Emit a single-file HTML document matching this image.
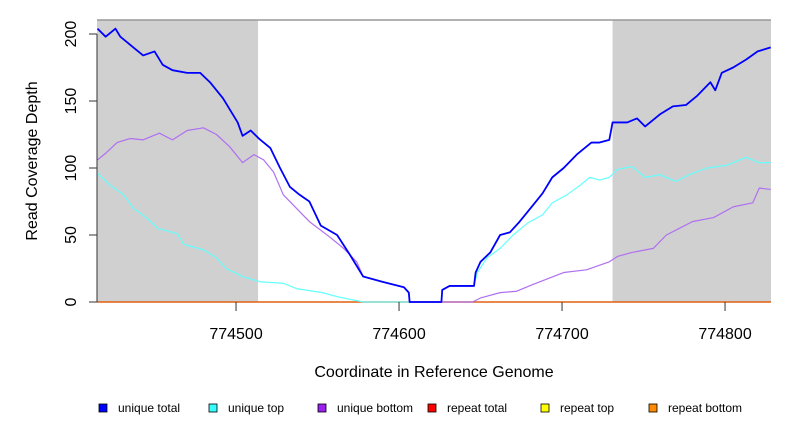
<!DOCTYPE html>
<html><head><meta charset="utf-8"><style>
body{margin:0;background:#fff;}
svg{display:block;font-family:"Liberation Sans",Arial,sans-serif;}
</style></head><body>
<svg id="c" width="792" height="432"></svg>
<script>
const totalX=[774415,774420,774426,774429,774437,774443,774450,774455,774461,774470,774478,774484,774492,774501,774504,774509,774514,774521,774527,774533,774539,774545,774552,774562,774570,774578,774590,774603,774606,774606.5,774626,774626.5,774631,774646,774647,774650,774656,774662,774668,774674,774682,774688,774694,774701,774709,774715,774718,774723,774729,774731,774740,774746,774751,774760,774768,774776,774783,774791,774794,774798,774805,774813,774820,774828];
const totalY=[204,198,204,198,190,184,187,177,173,171,171,164,152,134,124,128,122,115,100,86,80,75,57,50,35,19,15,11,7,0,0,9,12,12,22,30,37,50,52,60,72,81,93,100,110,116,119,119,121,134,134,137,131,140,146,147,154,164,158,171,175,181,187,190];
const topX=[774415,774423,774431,774437,774445,774452,774464,774468,774480,774488,774494,774504,774515,774529,774537,774553,774562,774578,774626,774626.5,774631,774646,774648,774654,774662,774670,774679,774688,774694,774703,774711,774717,774723,774729,774734,774743,774751,774760,774770,774778,774789,774801,774813,774821,774828];
const topY=[96,87,80,70,63,55,51,43,39,33,25,19,15,14,10,7,4,0,0,9,12,12,22,33,40,50,59,65,74,80,87,93,91,93,99,101,93,95,90,95,100,102,108,104,104];
const botX=[774415,774420,774427,774435,774443,774453,774461,774470,774480,774488,774496,774504,774511,774517,774523,774529,774537,774545,774558,774566,774574,774578,774590,774603,774606,774606.5,774645,774650,774662,774672,774682,774701,774715,774729,774734,774743,774756,774764,774772,774780,774793,774805,774817,774821,774828];
const botY=[106,111,119,122,121,126,121,128,130,125,116,104,110,106,97,80,70,60,48,40,30,19,15,11,7,0,0,3,7,8,13,22,24,30,34,37,40,50,55,60,63,71,74,85,84];
const yTicks=[0,50,100,150,200];
const xTicks=[774500,774600,774700,774800];
const shadeRanges=[[774414.7,774513.5],[774731,774828.2]];
const legendLabels=["unique total","unique top","unique bottom","repeat total","repeat top","repeat bottom"];
const legendColors=["#0000ff","#33ffff","#9a1ff0","#ff0000","#ffff00","#ff8c00"];

const NS="http://www.w3.org/2000/svg";
const svg=document.getElementById('c');
const X0=774414.7,X1=774828.2,L=97,R=771,T=20,B=302;
const sx=v=>L+(v-X0)/(X1-X0)*(R-L);
const sy=v=>B-v*1.34;
function mk(tag,attrs,parent){const e=document.createElementNS(NS,tag);for(const k in attrs)e.setAttribute(k,attrs[k]);(parent||svg).appendChild(e);return e;}

shadeRanges.forEach((r,i)=>{
  const e=mk('rect',{x:sx(r[0]),y:T,width:sx(r[1])-sx(r[0]),height:B-T,fill:'#d0d0d0'});
  
  
});
const topLine=mk('line',{x1:L,x2:R,y1:T,y2:T,stroke:'#999','stroke-width':1.5});



function linePath(xs,ys){let d='M'+sx(xs[0])+','+sy(ys[0]);for(let i=1;i<xs.length;i++){d+=' L'+sx(xs[i])+','+sy(ys[i]);}return d;}
const rep=mk('line',{x1:L,x2:R,y1:B,y2:B,stroke:'#e06010','stroke-width':1.5});


const pb=mk('path',{d:linePath(botX,botY),fill:'none',stroke:'#b070f0','stroke-width':1.2,'stroke-linejoin':'round'});


const pt=mk('path',{d:linePath(topX,topY),fill:'none',stroke:'#66ffff','stroke-width':1.2,'stroke-linejoin':'round'});


const pa=mk('path',{d:linePath(totalX,totalY),fill:'none',stroke:'#0000ff','stroke-width':1.8,'stroke-linejoin':'round'});



const ya=mk('line',{x1:L,x2:L,y1:sy(200),y2:B,stroke:'#333'});


yTicks.forEach(v=>{
  const t=mk('line',{x1:L-8,x2:L,y1:sy(v),y2:sy(v),stroke:'#333'});
  
  
  const tx=mk('text',{x:76,y:sy(v),transform:`rotate(-90 76 ${sy(v)})`,'text-anchor':'middle','font-size':16});
  tx.textContent=v;
  
  
});
xTicks.forEach(v=>{
  const t=mk('line',{x1:sx(v),x2:sx(v),y1:B,y2:B+9,stroke:'#333'});
  
  
  const tx=mk('text',{x:sx(v),y:339,'text-anchor':'middle','font-size':16});
  tx.textContent=v;
  
  
});
const yt=mk('text',{x:37,y:161,transform:'rotate(-90 37 161)','text-anchor':'middle','font-size':16});
yt.textContent='Read Coverage Depth';


const xt=mk('text',{x:434,y:377,'text-anchor':'middle','font-size':16});
xt.textContent='Coordinate in Reference Genome';



const legX=[99,209,318,428,541,649];
legendLabels.forEach((lab,i)=>{
  const g=mk('g',{});
  
  
  mk('rect',{x:legX[i],y:404,width:8,height:8,fill:legendColors[i],stroke:'#000','stroke-width':0.8},g);
  const t=mk('text',{x:legX[i]+19,y:412,'font-size':12},g);
  t.textContent=lab;
});
</script>
</body></html>
